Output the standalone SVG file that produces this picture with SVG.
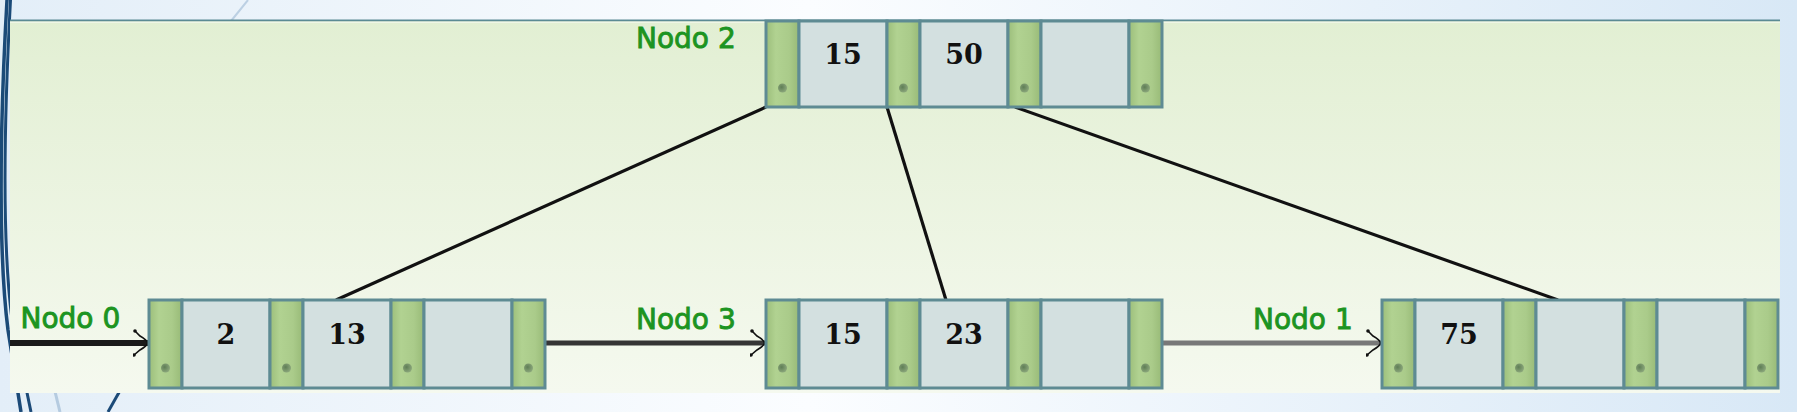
<svg xmlns="http://www.w3.org/2000/svg" width="1797" height="412" viewBox="0 0 1797 412">
<defs>
<linearGradient id="bg" x1="0" y1="0" x2="1" y2="0">
<stop offset="0" stop-color="#e3eef8"/>
<stop offset="0.45" stop-color="#fbfdff"/>
<stop offset="1" stop-color="#d8e8f6"/>
</linearGradient>
<linearGradient id="panel" x1="0" y1="0" x2="0" y2="1">
<stop offset="0" stop-color="#e2efd3"/>
<stop offset="1" stop-color="#f5f9ef"/>
</linearGradient>
<linearGradient id="ptr" x1="0" y1="0" x2="1" y2="0">
<stop offset="0" stop-color="#9cbe7b"/>
<stop offset="0.3" stop-color="#b1d291"/>
<stop offset="0.7" stop-color="#aacb8a"/>
<stop offset="1" stop-color="#98ba77"/>
</linearGradient>
<radialGradient id="dot" cx="0.4" cy="0.4" r="0.6">
<stop offset="0" stop-color="#5f7e56"/>
<stop offset="1" stop-color="#8aa67a"/>
</radialGradient>
<marker id="chev" viewBox="0 0 16 28" refX="15" refY="14" markerWidth="16" markerHeight="28" markerUnits="userSpaceOnUse" orient="auto">
<path d="M2,2 L7,7 Q14,11 14.5,14 Q14,17 7,21 L1,26" fill="none" stroke="#111" stroke-width="1.6"/>
<circle cx="2" cy="2" r="1.8" fill="#111"/>
<circle cx="1" cy="26" r="1.8" fill="#111"/>
</marker>
</defs>
<style>
.ptr{fill:url(#ptr);stroke:#5e8b93;stroke-width:3}
.key{fill:#d3e0e0;stroke:#5e8b93;stroke-width:3}
.dot{fill:url(#dot)}
.lbl{font-family:"DejaVu Sans",Verdana,sans-serif;font-size:28px;fill:#1c9421;stroke:#1c9421;stroke-width:0.9}
.num{font-family:"DejaVu Serif","Liberation Serif",serif;font-weight:bold;font-size:27px;fill:#111;text-anchor:middle}
.edge{stroke:#111;stroke-width:3.2;fill:none}
.deco{fill:none;stroke:#1b4a78}
</style>
<rect x="0" y="0" width="1797" height="412" fill="url(#bg)"/>
<g id="decor">
<path class="deco" stroke-width="3.5" d="M7,0 C-1,140 -1,260 8,330 L21,412"/>
<path class="deco" stroke-width="3" d="M10.5,0 C3,140 3,250 12,320 L31,412"/>
<path fill="none" stroke="#b5cbe0" stroke-width="3" d="M40,330 L60,412"/>
<path class="deco" stroke-width="3" d="M126,380 L108,412"/>
<path fill="none" stroke="#bcd0e3" stroke-width="2" d="M248,0 L231,21"/>
</g>
<rect x="10" y="20" width="1770" height="373" fill="url(#panel)"/>
<rect x="10" y="19.5" width="1770" height="2" fill="#5b8a94"/>
<rect x="10" y="21.5" width="1770" height="1.5" fill="#f0f6e6"/>
<g id="connectors">
<line class="edge" x1="766" y1="107" x2="336" y2="300"/>
<line class="edge" x1="887" y1="107" x2="946" y2="300"/>
<line class="edge" x1="1015" y1="107" x2="1558" y2="300"/>
<line x1="10" y1="343" x2="148" y2="343" stroke="#1a1a1a" stroke-width="6" marker-end="url(#chev)"/>
<line x1="545" y1="343" x2="765" y2="343" stroke="#353535" stroke-width="5" marker-end="url(#chev)"/>
<line x1="1161" y1="343" x2="1381" y2="343" stroke="#787878" stroke-width="5" marker-end="url(#chev)"/>
</g>
<g id="node2">
<text class="lbl" x="636" y="47.5">Nodo 2</text>
<rect class="ptr" x="766" y="21" width="33" height="86"/>
<rect class="key" x="799" y="21" width="88" height="86"/>
<rect class="ptr" x="887" y="21" width="33" height="86"/>
<rect class="key" x="920" y="21" width="88" height="86"/>
<rect class="ptr" x="1008" y="21" width="33" height="86"/>
<rect class="key" x="1041" y="21" width="88" height="86"/>
<rect class="ptr" x="1129" y="21" width="33" height="86"/>
<circle class="dot" cx="782.5" cy="88" r="4.5"/>
<circle class="dot" cx="903.5" cy="88" r="4.5"/>
<circle class="dot" cx="1024.5" cy="88" r="4.5"/>
<circle class="dot" cx="1145.5" cy="88" r="4.5"/>
<text class="num" x="843" y="64">15</text>
<text class="num" x="964" y="64">50</text>
</g>
<g id="node0">
<text class="lbl" x="20.5" y="328">Nodo 0</text>
<rect class="ptr" x="149" y="300" width="33" height="88"/>
<rect class="key" x="182" y="300" width="88" height="88"/>
<rect class="ptr" x="270" y="300" width="33" height="88"/>
<rect class="key" x="303" y="300" width="88" height="88"/>
<rect class="ptr" x="391" y="300" width="33" height="88"/>
<rect class="key" x="424" y="300" width="88" height="88"/>
<rect class="ptr" x="512" y="300" width="33" height="88"/>
<circle class="dot" cx="165.5" cy="368" r="4.5"/>
<circle class="dot" cx="286.5" cy="368" r="4.5"/>
<circle class="dot" cx="407.5" cy="368" r="4.5"/>
<circle class="dot" cx="528.5" cy="368" r="4.5"/>
<text class="num" x="226" y="344">2</text>
<text class="num" x="347" y="344">13</text>
</g>
<g id="node3">
<text class="lbl" x="636" y="328.5">Nodo 3</text>
<rect class="ptr" x="766" y="300" width="33" height="88"/>
<rect class="key" x="799" y="300" width="88" height="88"/>
<rect class="ptr" x="887" y="300" width="33" height="88"/>
<rect class="key" x="920" y="300" width="88" height="88"/>
<rect class="ptr" x="1008" y="300" width="33" height="88"/>
<rect class="key" x="1041" y="300" width="88" height="88"/>
<rect class="ptr" x="1129" y="300" width="33" height="88"/>
<circle class="dot" cx="782.5" cy="368" r="4.5"/>
<circle class="dot" cx="903.5" cy="368" r="4.5"/>
<circle class="dot" cx="1024.5" cy="368" r="4.5"/>
<circle class="dot" cx="1145.5" cy="368" r="4.5"/>
<text class="num" x="843" y="344">15</text>
<text class="num" x="964" y="344">23</text>
</g>
<g id="node1">
<text class="lbl" x="1253" y="328.5">Nodo 1</text>
<rect class="ptr" x="1382" y="300" width="33" height="88"/>
<rect class="key" x="1415" y="300" width="88" height="88"/>
<rect class="ptr" x="1503" y="300" width="33" height="88"/>
<rect class="key" x="1536" y="300" width="88" height="88"/>
<rect class="ptr" x="1624" y="300" width="33" height="88"/>
<rect class="key" x="1657" y="300" width="88" height="88"/>
<rect class="ptr" x="1745" y="300" width="33" height="88"/>
<circle class="dot" cx="1398.5" cy="368" r="4.5"/>
<circle class="dot" cx="1519.5" cy="368" r="4.5"/>
<circle class="dot" cx="1640.5" cy="368" r="4.5"/>
<circle class="dot" cx="1761.5" cy="368" r="4.5"/>
<text class="num" x="1459" y="344">75</text>
</g>
</svg>
